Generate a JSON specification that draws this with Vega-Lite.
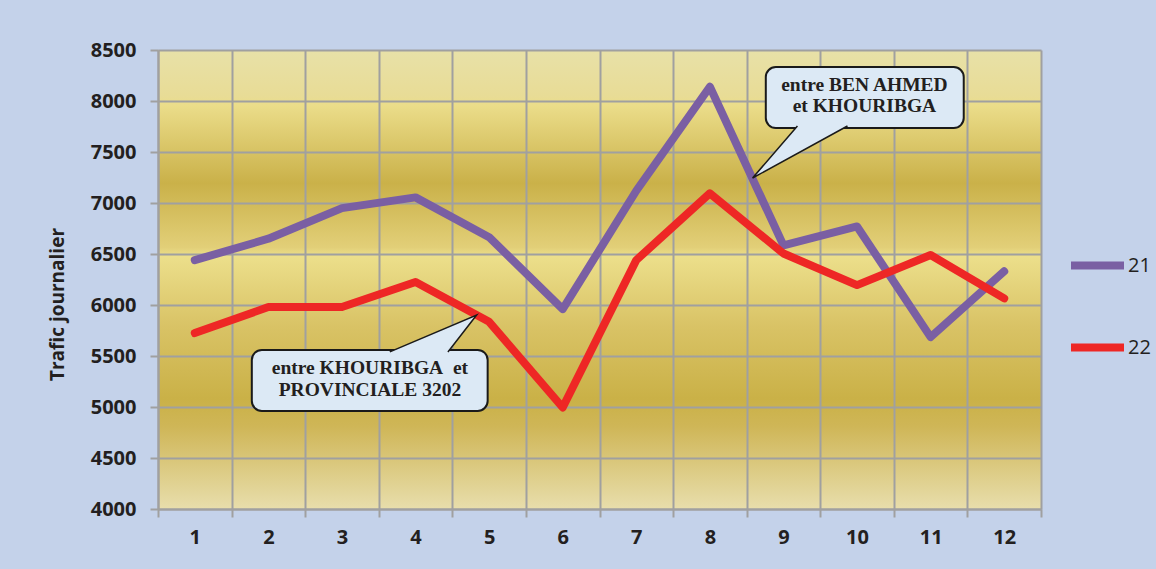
{
  "$schema": "https://vega.github.io/schema/vega-lite/v6.json",
  "width": 883,
  "height": 459,
  "autosize": {"type": "none"},
  "padding": {"left": 158, "top": 50, "right": 115, "bottom": 60},
  "background": "#c4d2ea",
  "config": {
    "view": {
      "stroke": null,
      "fill": {
        "gradient": "linear", "x1": 0, "y1": 0, "x2": 0, "y2": 1,
        "stops": [
          {"offset": 0, "color": "#e8e1a8"},
          {"offset": 0.1, "color": "#e8dc96"},
          {"offset": 0.12, "color": "#ebdd8a"},
          {"offset": 0.29, "color": "#cab149"},
          {"offset": 0.43, "color": "#e2cf78"},
          {"offset": 0.45, "color": "#ecdf8b"},
          {"offset": 0.6, "color": "#d9c366"},
          {"offset": 0.76, "color": "#cab147"},
          {"offset": 0.82, "color": "#cfb657"},
          {"offset": 1, "color": "#e8deac"}
        ]
      }
    },
    "axis": {
      "gridColor": "#a0a0a0", "gridWidth": 2, "gridOpacity": 1,
      "domainColor": "#a0a0a0", "domainWidth": 2,
      "tickColor": "#a0a0a0", "tickWidth": 2, "tickSize": 8,
      "labelFont": "Open Sans", "labelFontWeight": "bold", "labelFontSize": 20, "labelColor": "#231f20",
      "titleFont": "Open Sans", "titleFontWeight": "bold", "titleFontSize": 19, "titleColor": "#231f20"
    },
    "legend": {
      "labelFont": "Open Sans", "labelFontSize": 20, "labelColor": "#231f20"
    }
  },
  "datasets": {
    "trafic": [
      {"mois": 1, "trafic": 6440, "serie": "21"},
      {"mois": 2, "trafic": 6650, "serie": "21"},
      {"mois": 3, "trafic": 6950, "serie": "21"},
      {"mois": 4, "trafic": 7055, "serie": "21"},
      {"mois": 5, "trafic": 6665, "serie": "21"},
      {"mois": 6, "trafic": 5960, "serie": "21"},
      {"mois": 7, "trafic": 7120, "serie": "21"},
      {"mois": 8, "trafic": 8140, "serie": "21"},
      {"mois": 9, "trafic": 6585, "serie": "21"},
      {"mois": 10, "trafic": 6770, "serie": "21"},
      {"mois": 11, "trafic": 5685, "serie": "21"},
      {"mois": 12, "trafic": 6330, "serie": "21"},
      {"mois": 1, "trafic": 5725, "serie": "22"},
      {"mois": 2, "trafic": 5980, "serie": "22"},
      {"mois": 3, "trafic": 5980, "serie": "22"},
      {"mois": 4, "trafic": 6225, "serie": "22"},
      {"mois": 5, "trafic": 5835, "serie": "22"},
      {"mois": 6, "trafic": 4995, "serie": "22"},
      {"mois": 7, "trafic": 6440, "serie": "22"},
      {"mois": 8, "trafic": 7095, "serie": "22"},
      {"mois": 9, "trafic": 6505, "serie": "22"},
      {"mois": 10, "trafic": 6195, "serie": "22"},
      {"mois": 11, "trafic": 6490, "serie": "22"},
      {"mois": 12, "trafic": 6065, "serie": "22"}
    ],
    "boxes": [
      {"id": "a", "x1": 1.775, "x2": 4.98, "y1": 5559, "y2": 4961},
      {"id": "b", "x1": 8.76, "x2": 11.45, "y1": 8333, "y2": 7735}
    ],
    "pointers": [
      {"id": "a", "ord": 1, "px": 3.65, "py": 5540},
      {"id": "a", "ord": 2, "px": 4.83, "py": 5902},
      {"id": "a", "ord": 3, "px": 4.44, "py": 5540},
      {"id": "b", "ord": 1, "px": 9.19, "py": 7755},
      {"id": "b", "ord": 2, "px": 8.58, "py": 7245},
      {"id": "b", "ord": 3, "px": 9.87, "py": 7755}
    ],
    "labels": [
      {"tx": 3.38, "ty": 5382, "txt": "entre KHOURIBGA\u00a0 et"},
      {"tx": 3.38, "ty": 5167, "txt": "PROVINCIALE 3202"},
      {"tx": 10.1, "ty": 8157, "txt": "entre BEN AHMED"},
      {"tx": 10.1, "ty": 7951, "txt": "et KHOURIBGA"}
    ]
  },
  "layer": [
    {
      "data": {"name": "trafic"},
      "mark": {"type": "line", "strokeWidth": 8, "strokeCap": "round", "strokeJoin": "round"},
      "encoding": {
        "x": {
          "field": "mois", "type": "quantitative",
          "scale": {"domain": [0.5, 12.5], "nice": false, "zero": false},
          "axis": {
            "title": null,
            "values": [0.5, 1.5, 2.5, 3.5, 4.5, 5.5, 6.5, 7.5, 8.5, 9.5, 10.5, 11.5, 12.5],
            "labelExpr": "datum.value < 12 ? format(datum.value + 0.5, 'd') : ''",
            "labelOffset": 36.8,
            "labelAlign": "center",
            "labelFlush": false,
            "labelOverlap": false,
            "labelBound": false,
            "labelPadding": 10,
            "grid": true
          }
        },
        "y": {
          "field": "trafic", "type": "quantitative",
          "scale": {"domain": [4000, 8500], "nice": false, "zero": false},
          "axis": {
            "title": "Trafic journalier",
            "format": "d",
            "values": [4000, 4500, 5000, 5500, 6000, 6500, 7000, 7500, 8000, 8500],
            "labelPadding": 14,
            "titleX": -101,
            "titleY": 254,
            "titleBaseline": "middle",
            "titleAlign": "center",
            "grid": true
          }
        },
        "color": {
          "field": "serie", "type": "nominal",
          "scale": {"domain": ["21", "22"], "range": ["#7a5fa3", "#ee2725"]},
          "legend": {
            "title": null,
            "orient": "none",
            "legendX": 909,
            "legendY": 185,
            "symbolType": "stroke",
            "symbolSize": 2809,
            "symbolStrokeWidth": 8,
            "rowPadding": 35,
            "labelOffset": 0
          }
        }
      }
    },
    {
      "data": {"name": "boxes"},
      "mark": {"type": "rect", "fill": "#dce9f5", "stroke": "#1a1a1a", "strokeWidth": 2, "cornerRadius": 10},
      "encoding": {
        "x": {"field": "x1", "type": "quantitative"},
        "x2": {"field": "x2"},
        "y": {"field": "y1", "type": "quantitative"},
        "y2": {"field": "y2"}
      }
    },
    {
      "data": {"name": "pointers"},
      "mark": {"type": "line", "fill": "#dce9f5", "stroke": "#1a1a1a", "strokeWidth": 1.5, "strokeJoin": "miter"},
      "encoding": {
        "x": {"field": "px", "type": "quantitative"},
        "y": {"field": "py", "type": "quantitative"},
        "detail": {"field": "id"},
        "order": {"field": "ord"}
      }
    },
    {
      "data": {"name": "labels"},
      "mark": {"type": "text", "font": "Liberation Serif", "fontWeight": "bold", "fontSize": 19.5, "color": "#231f20", "align": "center", "baseline": "middle"},
      "encoding": {
        "x": {"field": "tx", "type": "quantitative"},
        "y": {"field": "ty", "type": "quantitative"},
        "text": {"field": "txt"}
      }
    }
  ]
}
